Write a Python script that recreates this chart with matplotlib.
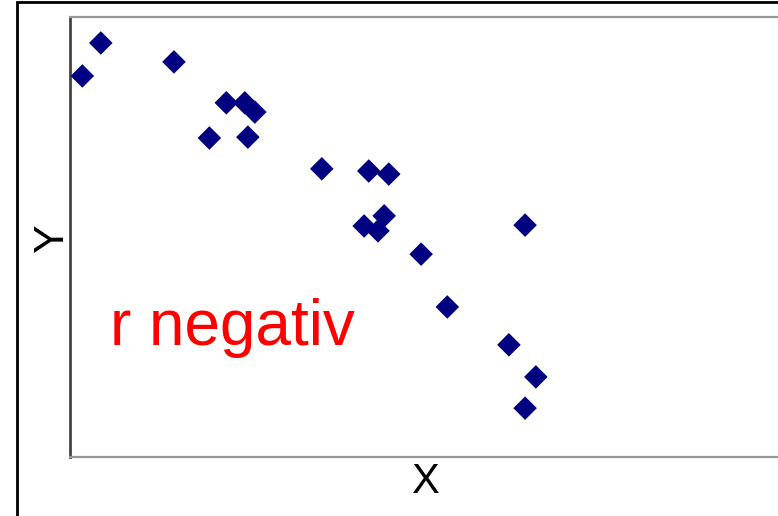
import matplotlib.pyplot as plt
from matplotlib.patches import Rectangle

plt.rcParams['font.family'] = ['Liberation Sans', 'DejaVu Sans']

# ---------------- DATA ----------------

x_vals = [0.16, 0.40, 1.35, 2.03, 2.27, 2.40, 1.81, 2.31, 3.27, 3.88,
          4.14, 4.08, 3.82, 4.00, 5.91, 4.56, 4.90, 5.70, 6.05, 5.91]
y_vals = [8.66, 9.41, 8.98, 8.05, 8.05, 7.84, 7.25, 7.27, 6.55, 6.50,
          6.43, 5.48, 5.25, 5.14, 5.27, 4.61, 3.41, 2.55, 1.82, 1.11]

label_text = "r negativ"

# ---------------- FIGURE ----------------

fig = plt.figure(figsize=(7.78, 5.16), dpi=100)

# frame around the whole graphic (runs off the right/bottom edge)
fig.patches.append(Rectangle((17 / 778, -0.1), 1.2, 1.1 - 2 / 516,
                             transform=fig.transFigure, fill=False,
                             edgecolor='black', linewidth=2, clip_on=False))

ax = fig.add_axes([70 / 778, (516 - 457) / 516, 770 / 778, 440 / 516])

ax.scatter(x_vals, y_vals, marker='D', s=12 ** 2, color='#000080',
           edgecolors='none', zorder=3, clip_on=False)

ax.set_xlim(0, 10)
ax.set_ylim(0, 10)
ax.set_xticks([])
ax.set_yticks([])

ax.spines['left'].set_color('#444444')
ax.spines['left'].set_linewidth(2)
for side in ['top', 'bottom']:
    ax.spines[side].set_color('#999999')
    ax.spines[side].set_linewidth(1.6)
ax.spines['right'].set_visible(False)

ax.set_xlabel("X", fontsize=30)
ax.xaxis.set_label_coords(0.461, -0.012)
ax.set_ylabel("Y", fontsize=31)
ax.yaxis.set_label_coords(0.003, 0.498)

ax.text(0.052, 0.2545, label_text, transform=ax.transAxes, color='red',
        fontsize=46, va='baseline', ha='left')

fig.savefig("out.png", dpi=100)
